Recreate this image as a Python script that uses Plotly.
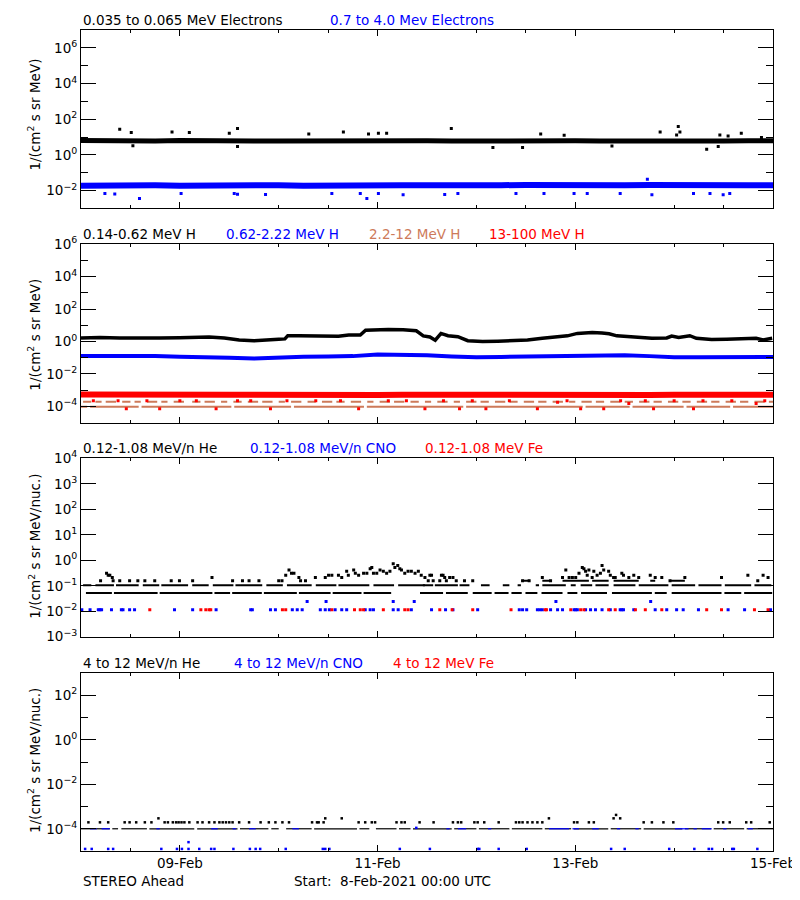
import pandas as pd
import plotly.graph_objects as go

START = pd.Timestamp("2021-02-08 00:00")
END = pd.Timestamp("2021-02-15 00:00")

BLACK, BLUE, RED, BROWN = "#000000", "#0000ff", "#ff0000", "#cd7a5a"
FONT = "DejaVu Sans"
FS = 13.5

# ---------------- Panel 1 : electrons (hours since start, flux) ----------------
band_hours = [0, 6, 12, 18, 24, 30, 36, 42, 48, 54, 60, 66, 72, 78, 84, 90, 96,
              102, 108, 114, 120, 126, 132, 138, 144, 150, 156, 162, 168]
elec_low = [6.5, 6.2, 6.3, 6.0, 6.4, 6.6, 6.3, 6.1, 6.0, 6.2, 6.3, 6.0, 6.2, 6.1, 6.3,
            6.0, 6.2, 6.4, 6.1, 6.0, 6.2, 6.1, 5.9, 6.0, 6.2, 6.1, 6.0, 6.2, 6.3]
elec_high = [0.019, 0.020, 0.021, 0.020, 0.019, 0.020, 0.020, 0.021, 0.020, 0.019,
             0.020, 0.020, 0.021, 0.020, 0.020, 0.019, 0.020, 0.020, 0.021, 0.020,
             0.020, 0.019, 0.020, 0.021, 0.020, 0.020, 0.019, 0.020, 0.020]
elec_low_out_h = [9.4, 12.2, 22.1, 26.3, 36.0, 38.0, 55.3, 63.7, 69.8, 72.2, 74.2, 89.9,
                  111.6, 117.3, 140.6, 144.6, 145.0, 145.4, 155.1, 157.1, 160.3, 165.2,
                  12.6, 38.0, 100.0, 107.2, 128.9, 151.9, 154.7]
elec_low_out_v = [27.5, 18.2, 19.5, 18.2, 16.6, 30.2, 14.8, 19.5, 14.8, 16.6, 16.6, 30.2,
                  14.8, 12.6, 19.5, 12.9, 38.9, 19.5, 12.9, 11.7, 16.6, 9.5,
                  3.3, 3.0, 2.6, 2.6, 3.2, 2.1, 3.0]
elec_high_out_h = [5.8, 8.2, 14.2, 24.3, 37.2, 38.0, 44.8, 60.9, 67.8, 69.4, 72.2, 78.2,
                   88.3, 91.5, 105.6, 112.4, 119.7, 122.9, 130.9, 138.6, 148.7, 152.7,
                   155.9, 157.5, 137.5]
elec_high_out_v = [0.0068, 0.0065, 0.0036, 0.0068, 0.0068, 0.0062, 0.0060, 0.0068, 0.0068,
                   0.0036, 0.0070, 0.0058, 0.0060, 0.0068, 0.0068, 0.0068, 0.0068, 0.0068,
                   0.0070, 0.0058, 0.0068, 0.0068, 0.0058, 0.0068, 0.043]

# ---------------- Panel 2 : protons ----------------
hlow_hours = [0, 4.6, 9.4, 14.2, 19.1, 23.9, 28.7, 31.1, 34.8, 38.4, 42.0, 44.4, 48.0, 49.5,
              50.2, 52.9, 57.7, 62.5, 65.0, 67.8, 69.1, 71.0, 74.6, 78.2, 81.4, 83.1, 84.7,
              86.0, 87.4, 89.1, 91.5, 93.9, 97.5, 101.2, 104.8, 108.4, 112.0, 115.7, 118.1,
              120.5, 124.1, 126.5, 128.2, 130.1, 132.6, 135.0, 138.6, 142.2, 143.4, 145.1,
              147.8, 149.4, 153.1, 156.7, 160.3, 163.9, 165.6, 167.8]
hlow_flux = [1.66, 1.78, 1.66, 1.58, 1.66, 1.70, 1.82, 1.91, 1.66, 1.26, 1.10, 1.15, 1.38, 1.45,
             2.29, 2.29, 2.09, 2.14, 2.51, 2.51, 5.0, 5.25, 5.5, 5.25, 4.57, 2.24, 1.91,
             1.20, 3.16, 2.29, 2.0, 1.12, 1.0, 1.05, 1.10, 1.26, 1.58, 1.82, 2.24,
             3.16, 3.55, 3.31, 3.02, 2.24, 2.0, 1.78, 1.58, 1.66, 2.19, 1.78,
             2.29, 1.58, 1.32, 1.38, 1.51, 1.58, 1.26, 1.58]
hmid_flux = [0.129, 0.132, 0.126, 0.126, 0.117, 0.112, 0.100, 0.089, 0.105, 0.117, 0.120,
             0.126, 0.158, 0.158, 0.141, 0.120, 0.107, 0.112, 0.117, 0.132, 0.145, 0.148,
             0.145, 0.126, 0.107, 0.107, 0.110, 0.112, 0.112]
hhigh_flux = [5.4e-4, 5.2e-4, 5.1e-4, 5.3e-4, 5.2e-4, 5.0e-4, 5.2e-4, 5.3e-4, 5.1e-4, 5.2e-4,
              5.4e-4, 5.2e-4, 5.1e-4, 5.3e-4, 5.2e-4, 5.1e-4, 5.2e-4, 5.3e-4, 5.2e-4, 5.1e-4,
              5.2e-4, 5.4e-4, 5.2e-4, 5.1e-4, 5.3e-4, 5.2e-4, 5.2e-4, 5.1e-4, 5.3e-4]
hhigh_out_h = [11.0, 19.1, 32.8, 41.2, 46.0, 67.4, 74.6, 83.5, 91.9, 98.3, 110.8, 115.7, 121.3,
               126.9, 133.0, 139.0, 148.7, 163.9,
               3.0, 9.0, 16.0, 24.0, 28.0, 38.0, 50.0, 57.0, 63.0, 79.0, 88.0, 95.0, 104.0,
               118.0, 131.0, 137.0, 144.0, 151.0, 158.0, 166.0]
hhigh_out_v = [7.1e-5, 7.1e-5, 7.1e-5, 2.2e-4, 7.1e-5, 7.1e-5, 2.2e-4, 7.1e-5, 7.1e-5, 7.1e-5,
               7.1e-5, 1.8e-4, 7.1e-5, 7.1e-5, 1.5e-4, 7.1e-5, 7.1e-5, 1.5e-4,
               2.2e-4, 2.2e-4, 2.2e-4, 2.2e-4, 2.2e-4, 2.2e-4, 2.2e-4, 2.2e-4, 2.2e-4, 2.2e-4,
               2.2e-4, 2.2e-4, 2.2e-4, 2.2e-4, 2.2e-4, 2.2e-4, 2.2e-4, 2.2e-4, 2.2e-4, 2.2e-4]
hmed_level1 = 9.5e-5
hmed_runs1 = [(0, 1.5), (2.2, 14), (14.7, 36.5), (37.2, 51), (51.7, 68.7), (69.4, 92.8),
              (93.5, 121.8), (122.5, 133.2), (133.9, 146.3), (147, 157.6), (158.3, 168)]
hmed_level2 = 1.95e-4
hmed_runs2 = [(0.5, 2.5), (3.5, 5), (6, 8.5), (10, 12), (13, 14.5), (16, 18.5), (19.5, 21),
              (22.5, 25), (27, 29), (30, 32.5), (34, 35.5), (37, 39), (40.5, 43), (44, 46.5),
              (48, 49.5), (51, 53.5), (55, 57), (58.5, 61), (62, 64), (65.5, 68), (69.5, 71),
              (72.5, 75), (76, 78.5), (80, 82), (83.5, 85), (86.5, 89), (90.5, 92), (93.5, 96),
              (97, 99), (100.5, 103), (104, 106), (107.5, 110), (111, 113), (114.5, 117),
              (118.5, 120), (121.5, 124), (125, 127), (128.5, 131), (132, 134), (135.5, 138),
              (139, 141), (142.5, 145), (146, 148), (149.5, 152), (153, 155), (156.5, 159),
              (160, 162), (163.5, 166), (167, 168)]

# ---------------- Panel 3 : low-energy ions ----------------
he_l1 = 0.052
he_l1_runs = [(1.2, 7.5), (8.0, 18.6), (19.1, 31.9), (32.4, 36.2), (36.7, 43.9), (44.4, 52.4),
              (52.9, 60.6), (61.1, 68.1), (68.6, 75.3), (82.3, 87.9), (88.6, 93.9), (95.1, 99.7),
              (100.4, 103.8), (104.5, 107.0), (107.9, 110.8), (111.8, 116.9), (118.1, 120.5),
              (121.4, 127.7), (128.9, 138.6), (139.3, 142.2), (143.4, 155.5), (156.2, 160.3),
              (161.0, 167.8)]
he_l2 = 0.105
he_l2_runs = [(0.5, 2.5), (3.5, 8), (8.5, 14), (15, 19), (19.5, 26), (27, 31), (32, 37),
              (37.5, 44), (45, 49), (50, 56), (57, 62), (62.5, 70), (71, 76), (77, 83.5),
              (83, 85.5), (85.9, 91.5), (91.9, 94.3), (97.1, 99.2), (102.4, 104), (106, 106.8),
              (110.4, 111.2), (112, 117.7), (118.9, 120.1), (121.3, 124.1), (124.9, 128.1),
              (129.3, 134.6), (135.4, 142.6), (143.4, 149.1), (149.9, 155.5), (156.3, 162.7),
              (163.5, 167.6)]
he_l3 = 0.157
he_l3_runs = [(107, 109), (112, 114), (116.9, 123.3), (124.1, 128.1), (129.3, 135.4),
              (138.2, 139.4), (143, 146.6)]
he_pts_h = [4.75, 6.2, 6.6, 7.0, 7.6, 7.8, 9.4, 11.8, 13.8, 15.5, 17.9, 21.9, 23.9, 27.1, 31.8,
            36.8, 39.2, 40.8, 43.2, 48.0, 48.8, 49.7, 50.5, 51.1, 51.7, 52.9, 53.3, 54.5, 56.9,
            59.3, 60.1, 60.9, 62.5, 63.3, 64.5, 64.9, 66.2, 66.6, 67.4, 68.6, 69.4, 70.2, 70.6,
            71.0, 71.8, 72.6, 73.4, 74.2, 75.0, 75.8, 76.2, 76.9, 77.4, 77.8, 78.6, 79.4, 80.2,
            81.1, 81.9, 82.6, 83.5,
            84.7, 85.1, 87.5, 87.9, 88.3, 89.5, 90.3, 84.3, 85.5, 87.1, 88.7, 91.1, 93.1, 95.1,
            107.2, 108.8, 112.0, 114.0, 116.9, 117.7, 118.5, 119.3, 120.1, 120.9, 121.7, 122.1,
            122.5, 122.9, 123.3, 124.1, 124.5, 125.3, 126.1, 126.5, 126.9, 128.1, 128.5, 129.3,
            129.7, 131.3, 131.7, 133.0, 134.2, 135.4, 138.2, 139.4, 141.0, 143.0, 146.6, 155.5,
            161.9, 164.3, 165.6, 166.8]
he_pts_v = [0.157, 0.31, 0.26, 0.26, 0.21, 0.157, 0.157, 0.157, 0.157, 0.157, 0.157, 0.157,
            0.157, 0.157, 0.21, 0.157, 0.157, 0.157, 0.157, 0.157, 0.157, 0.26, 0.42, 0.31,
            0.31, 0.21, 0.157, 0.157, 0.21, 0.21, 0.26, 0.26, 0.26, 0.21, 0.37, 0.26, 0.42,
            0.31, 0.26, 0.31, 0.31, 0.47, 0.52, 0.31, 0.31, 0.42, 0.37, 0.31, 0.37, 0.73, 0.52,
            0.63, 0.47, 0.42, 0.31, 0.37, 0.37, 0.31, 0.37, 0.26, 0.21,
            0.26, 0.26, 0.26, 0.26, 0.21, 0.21, 0.21, 0.157, 0.157, 0.157, 0.157, 0.157, 0.157,
            0.157, 0.157, 0.157, 0.21, 0.157, 0.21, 0.42, 0.21, 0.21, 0.21, 0.31, 0.52, 0.47,
            0.37, 0.26, 0.42, 0.21, 0.37, 0.26, 0.31, 0.63, 0.42, 0.37, 0.26, 0.21, 0.21, 0.31,
            0.26, 0.21, 0.26, 0.21, 0.26, 0.21, 0.21, 0.157, 0.21, 0.21, 0.26, 0.157, 0.26, 0.21]
cno_lo_level = 0.0114
cno_lo_h = [0.2, 2.2, 4.2, 4.6, 5.0, 7.4, 9.8, 10.2, 11.8, 13.0, 22.7, 27.1, 32.8, 41.2, 41.6,
            46.0, 47.2, 51.3, 52.5, 53.7, 58.1, 59.3, 60.3, 61.7, 63.3, 64.5, 69.0, 70.2, 71.0,
            75.8, 77.0, 80.2, 85.1, 88.5, 90.3, 96.3, 106.4, 107.2, 108.2, 110.8, 111.4, 112.0,
            114.0, 115.7, 116.9, 119.7, 120.1, 120.5, 122.5, 123.7, 124.9, 126.5, 128.5, 130.9,
            131.3, 131.7, 134.2, 139.4, 142.2, 144.6, 146.2, 149.9, 157.1, 161.1, 167.4]
cno_hi_h = [54.9, 59.5, 75.8, 80.9, 115.3, 138.3]
cno_hi_level = 0.024
fe_lo_h = [16.7, 29.1, 30.3, 31.1, 31.5, 48.9, 49.7, 60.9, 66.4, 67.8, 68.6, 73.4, 78.6, 79.4,
           87.1, 90.1, 95.1, 104.4, 112.7, 113.0, 118.9, 121.3, 122.1, 128.1, 129.7, 134.6,
           137.0, 141.0, 151.9, 155.5, 163.5, 166.8]

# ---------------- Panel 4 : high-energy ions ----------------
he4_base = 1.0e-4
he4_base_runs = [(0, 7), (7.6, 9), (9.8, 16), (16.6, 27.5), (28.2, 38), (38.6, 45.5), (46.2, 48),
                 (49.8, 56), (56.6, 67), (67.6, 70), (71.6, 76.6), (77.2, 80), (80.6, 90),
                 (90.6, 96), (96.6, 104), (104.6, 112), (112.6, 119), (119.6, 128), (128.6, 136),
                 (136.6, 146), (146.6, 153), (153.6, 161), (161.6, 168)]
he4_pts_h = [1.8, 4.6, 6.6, 10.6, 11.8, 13.4, 15.5, 17.1, 20.3, 21.1, 22.3, 23.1, 23.7, 24.4, 25.1,
             26.3, 28.3, 29.5, 31.1, 32.4, 33.6, 34.4, 35.2, 36.0, 36.8, 38.4, 40.8, 43.6, 45.6,
             47.2, 48.9, 50.5, 56.1, 57.3, 57.7, 58.9, 67.4, 69.0, 70.6, 71.4, 76.6, 77.8, 78.6,
             82.2, 85.6, 90.3, 91.5, 92.3, 95.5, 96.3, 97.9, 101.4, 105.6, 106.4, 107.2, 108.4,
             109.6, 110.8, 112.0, 119.7, 120.5, 123.3, 124.5, 136.6, 138.6, 141.4, 143.8, 154.7,
             155.9, 157.5, 161.5, 162.7, 167.2,
             18.8, 59.3, 63.3, 113.6, 129.3, 130.9, 129.9]
he4_pts_v = [1.95e-4] * 73 + [2.95e-4, 2.95e-4, 2.95e-4, 2.95e-4, 2.95e-4, 2.95e-4, 4.2e-4]
cno4_base_runs = [(2.2, 3.8), (5, 7), (18.3, 19.1), (31.6, 33.2), (36.8, 37.6), (40.8, 42.4),
                  (51.3, 52.9), (88.7, 89.5), (91.5, 93.5), (98.8, 99.6), (113.6, 118.5),
                  (119.3, 120.9), (124.1, 125.7), (130.1, 130.9), (134.6, 135.4), (144.2, 147.5),
                  (148.7, 149.5), (150.7, 153.1), (155.9, 156.7), (161.9, 163.1)]
cno4_pts_h = [1.0, 2.6, 6.6, 7.8, 19.5, 23.3, 24.5, 26.1, 28.7, 31.6, 32.4, 37.0, 41.0, 42.4, 43.5,
              49.7, 58.7, 59.3, 60.3, 77.4, 84.7, 96.3, 96.7, 101.4, 108.2, 128.7, 132.0, 142.8,
              148.9, 152.4, 153.2, 158.1, 158.5, 164.2, 26.1, 81.4]
cno4_pts_v = [1.24e-5] * 34 + [2.5e-5, 1.1e-4]

x_tick_dates = ["2021-02-09", "2021-02-11", "2021-02-13", "2021-02-15"]
x_tick_text = ["09-Feb", "11-Feb", "13-Feb", "15-Feb"]


# ---------------- helpers ----------------
def T(hours):
    return [START + pd.Timedelta(hours=float(h)) for h in hours]


def runs_xy(runs, level):
    xs, ys = [], []
    for a, b in runs:
        xs += [START + pd.Timedelta(hours=a), START + pd.Timedelta(hours=b), None]
        ys += [level, level, None]
    return xs, ys


fig = go.Figure()


def add_line(i, x, y, color, width):
    fig.add_trace(go.Scatter(x=x, y=y, mode="lines", line=dict(color=color, width=width),
                             xaxis="x" if i == 1 else f"x{i}", yaxis="y" if i == 1 else f"y{i}",
                             connectgaps=False, showlegend=False, hoverinfo="skip"))


def add_pts(i, x, y, color, size=3):
    fig.add_trace(go.Scatter(x=x, y=y, mode="markers",
                             marker=dict(color=color, size=size, symbol="square", line=dict(width=0)),
                             xaxis="x" if i == 1 else f"x{i}", yaxis="y" if i == 1 else f"y{i}",
                             showlegend=False, hoverinfo="skip"))


# Panel 1
add_line(1, T(band_hours), elec_low, BLACK, 5)
add_pts(1, T(elec_low_out_h), elec_low_out_v, BLACK)
add_line(1, T(band_hours), elec_high, BLUE, 6)
add_pts(1, T(elec_high_out_h), elec_high_out_v, BLUE)

# Panel 2
x, y = runs_xy(hmed_runs1, hmed_level1)
add_line(2, x, y, BROWN, 2)
x, y = runs_xy(hmed_runs2, hmed_level2)
add_line(2, x, y, BROWN, 2)
add_line(2, T(band_hours), hhigh_flux, RED, 6)
add_pts(2, T(hhigh_out_h), hhigh_out_v, RED)
add_line(2, T(band_hours), hmid_flux, BLUE, 4)
add_line(2, T(hlow_hours), hlow_flux, BLACK, 3.5)

# Panel 3
for runs, lvl in [(he_l1_runs, he_l1), (he_l2_runs, he_l2), (he_l3_runs, he_l3)]:
    x, y = runs_xy(runs, lvl)
    add_line(3, x, y, BLACK, 2)
add_pts(3, T(he_pts_h), he_pts_v, BLACK)
add_pts(3, T(cno_lo_h), [cno_lo_level] * len(cno_lo_h), BLUE)
add_pts(3, T(cno_hi_h), [cno_hi_level] * len(cno_hi_h), BLUE)
add_pts(3, T(fe_lo_h), [cno_lo_level] * len(fe_lo_h), RED)

# Panel 4
x, y = runs_xy(he4_base_runs, he4_base)
add_line(4, x, y, BLACK, 1.2)
x, y = runs_xy(cno4_base_runs, he4_base)
add_line(4, x, y, BLUE, 1.2)
add_pts(4, T(he4_pts_h), he4_pts_v, BLACK, 2.5)
add_pts(4, T(cno4_pts_h), cno4_pts_v, BLUE, 2.5)

# ---------------- layout ----------------
# reference-pixel geometry of the plotting area; the page body adds an 8 px offset
SHIFT = 8
REF_L, REF_R, REF_T, REF_B = 81, 776.7, 23, 851
PW, PH = REF_R - REF_L, REF_B - REF_T


def fy(py):
    return (REF_B - py) / PH


def fx(px):
    return (px - REF_L) / PW


panels = [(23, 203), (239, 419), (455, 635), (671.7, 851)]
yranges = [(-3, 7.001), (-5, 6.001), (-3.003, 4.003), (-5, 3)]
ymajor = [[-2, 0, 2, 4, 6], [-4, -2, 0, 2, 4, 6], [-3, -2, -1, 0, 1, 2, 3, 4], [-4, -2, 0, 2]]
yminor = [[-1, 1, 3, 5], [-3, -1, 1, 3, 5], [], [-3, -1, 1]]


def sup(e):
    return "10<sup>" + (str(e) if e >= 0 else "\u2212" + str(-e)) + "</sup>"


minor_x = [d for d in pd.date_range(START, END, freq="12h") if d.strftime("%Y-%m-%d") not in x_tick_dates]

layout = dict(width=800, height=900, paper_bgcolor="white", plot_bgcolor="white",
              margin=dict(l=REF_L - SHIFT, r=800 - (REF_R - SHIFT), t=REF_T - SHIFT,
                          b=900 - (REF_B - SHIFT)),
              showlegend=False,
              font=dict(family=FONT, size=FS, color="black"))
for i in range(1, 5):
    top, bot = panels[i - 1]
    xa = dict(type="date", range=[START, END], domain=[0, 1],
              anchor="y" if i == 1 else f"y{i}",
              showline=True, linecolor="black", linewidth=1, mirror="ticks",
              ticks="inside", ticklen=6, tickcolor="black", tickwidth=1,
              tickmode="array", tickvals=[pd.Timestamp(d) for d in x_tick_dates],
              ticktext=x_tick_text, showticklabels=(i == 4),
              minor=dict(tickmode="array", tickvals=minor_x, ticks="inside", ticklen=3,
                         tickcolor="black", showgrid=False),
              showgrid=False, zeroline=False,
              tickfont=dict(family=FONT, size=FS, color="black"))
    if i > 1:
        xa["matches"] = "x"
    lo, hi = yranges[i - 1]
    ya = dict(type="log", range=[lo, hi], domain=[fy(bot), fy(top)],
              anchor="x" if i == 1 else f"x{i}",
              showline=True, linecolor="black", linewidth=1, mirror="ticks",
              ticks="inside", ticklen=15, tickcolor="black", tickwidth=1,
              tickmode="array", tickvals=[10.0 ** e for e in ymajor[i - 1]],
              ticktext=[sup(e) for e in ymajor[i - 1]],
              showgrid=False, zeroline=False,
              tickfont=dict(family=FONT, size=FS, color="black"))
    if yminor[i - 1]:
        ya["minor"] = dict(tickmode="array", tickvals=[10.0 ** e for e in yminor[i - 1]],
                           ticks="inside", ticklen=7, tickcolor="black", showgrid=False)
    layout["xaxis" if i == 1 else f"xaxis{i}"] = xa
    layout["yaxis" if i == 1 else f"yaxis{i}"] = ya

titles = [
    (13, [(81, "0.035 to 0.065 MeV Electrons", BLACK), (329, "0.7 to 4.0 Mev Electrons", BLUE)]),
    (229, [(81, "0.14-0.62 MeV H", BLACK), (225, "0.62-2.22 MeV H", BLUE),
           (369, "2.2-12 MeV H", BROWN), (489, "13-100 MeV H", RED)]),
    (445, [(81, "0.12-1.08 MeV/n He", BLACK), (249, "0.12-1.08 MeV/n CNO", BLUE),
           (425, "0.12-1.08 MeV Fe", RED)]),
    (661, [(81, "4 to 12 MeV/n He", BLACK), (233, "4 to 12 MeV/n CNO", BLUE),
           (393, "4 to 12 MeV Fe", RED)]),
]
ann = []
for py, items in titles:
    for px, txt, col in items:
        ann.append(dict(xref="paper", yref="paper", x=fx(px), y=fy(py), xanchor="left",
                        yanchor="middle", text=txt, showarrow=False,
                        font=dict(family=FONT, size=FS, color=col)))
ytitles = [(108, "1/(cm<sup>2</sup> s sr MeV)"), (330, "1/(cm<sup>2</sup> s sr MeV)"),
           (544, "1/(cm<sup>2</sup> s sr MeV/nuc.)"), (760, "1/(cm<sup>2</sup> s sr MeV/nuc.)")]
for py, txt in ytitles:
    ann.append(dict(xref="paper", yref="paper", x=fx(34), y=fy(py), xanchor="center",
                    yanchor="middle", text=txt, textangle=-90, showarrow=False,
                    font=dict(family=FONT, size=FS, color="black")))
ann.append(dict(xref="paper", yref="paper", x=fx(81), y=fy(881), xanchor="left", yanchor="middle",
                text="STEREO Ahead", showarrow=False, font=dict(family=FONT, size=FS, color="black")))
ann.append(dict(xref="paper", yref="paper", x=fx(293), y=fy(881), xanchor="left", yanchor="middle",
                text="Start:\u00a0\u00a08-Feb-2021 00:00 UTC", showarrow=False,
                font=dict(family=FONT, size=FS, color="black")))
layout["annotations"] = ann

fig.update_layout(**layout)
fig.write_html("out.html", config={"displayModeBar": False})
